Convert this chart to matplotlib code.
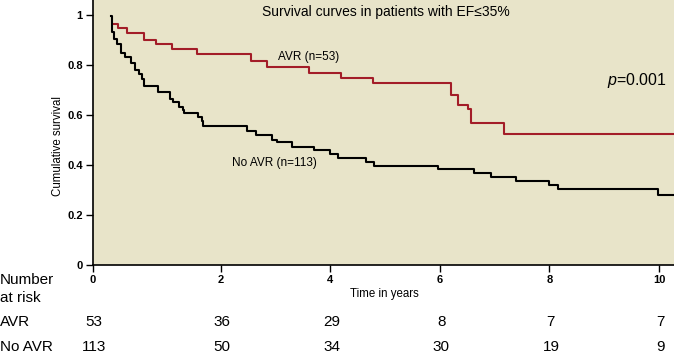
import matplotlib
matplotlib.use("Agg")
import matplotlib.pyplot as plt

# Kaplan-Meier curves (time in years, cumulative survival)
avr_time = [0.06, 0.133, 0.286, 0.608, 0.821, 1.119, 1.564, 2.549, 2.841, 3.608,
            4.197, 4.786, 6.204, 6.327, 6.520, 6.564, 7.177, 10.27]
avr_surv = [0.965, 0.947, 0.927, 0.899, 0.883, 0.863, 0.843, 0.816, 0.793, 0.768,
            0.747, 0.727, 0.680, 0.640, 0.623, 0.569, 0.523, 0.523]

noavr_time = [0.0, 0.009, 0.060, 0.115, 0.177, 0.250, 0.365, 0.438, 0.511, 0.566,
              0.602, 0.863, 1.077, 1.126, 1.241, 1.308, 1.332, 1.588, 1.661, 1.684,
              2.487, 2.641, 2.943, 3.024, 3.297, 3.704, 4.005, 4.137, 4.653, 4.805,
              5.967, 6.630, 6.943, 7.385, 7.998, 8.151, 9.976, 10.27]
noavr_surv = [0.997, 0.933, 0.903, 0.883, 0.847, 0.831, 0.807, 0.780, 0.764, 0.745,
              0.717, 0.693, 0.663, 0.651, 0.631, 0.620, 0.607, 0.591, 0.577, 0.556,
              0.536, 0.519, 0.500, 0.493, 0.473, 0.460, 0.444, 0.427, 0.414, 0.398,
              0.383, 0.367, 0.353, 0.336, 0.321, 0.303, 0.281, 0.281]

x_ticklabels = ["0", "2", "4", "6", "8", "10"]
y_ticks = [0, 0.2, 0.4, 0.6, 0.8, 1]
y_ticklabels = ["0", "0.2", "0.4", "0.6", "0.8", "1"]

risk_groups = ["AVR", "No AVR"]
risk_avr = [53, 36, 29, 8, 7, 7]
risk_noavr = [113, 50, 34, 30, 19, 9]

W, H = 674, 357
SANS = ["Liberation Sans", "DejaVu Sans"]
NARROW = ["Liberation Sans Narrow", "Liberation Sans", "DejaVu Sans"]
plt.rcParams["font.family"] = SANS
plt.rcParams["mathtext.fontset"] = "custom"
plt.rcParams["mathtext.it"] = "Liberation Sans:italic"
plt.rcParams["mathtext.rm"] = "Liberation Sans"


def px(x, y):
    return x / W, 1 - y / H


fig = plt.figure(figsize=(W / 100, H / 100), dpi=100)
ax = fig.add_axes([92.5 / W, 1 - 265 / H, 1 - 92.5 / W, 265 / H])
ax.set_facecolor("#e8e4c9")

xmin, xmax = -0.338, 10.274
ax.set_xlim(xmin, xmax)
ax.set_ylim(0, 1.06)

ax.step(avr_time, avr_surv, where="post", color="#a31d28", lw=1.5)
ax.step(noavr_time, noavr_surv, where="post", color="black", lw=1.5)

# the published plot puts its "0" tick on the left axis line
x_ticks = [xmin, 2, 4, 6, 8, 10]
ax.set_xticks(x_ticks)
ax.set_xticklabels(x_ticklabels, family=NARROW, fontsize=8, fontweight="bold")
ax.set_yticks(y_ticks)
ax.set_yticklabels(y_ticklabels, family=NARROW, fontsize=8, fontweight="bold")
ax.tick_params(axis="both", direction="out", length=5, width=1, color="black", pad=2)

for s in ["top", "right"]:
    ax.spines[s].set_visible(False)
for s in ["left", "bottom"]:
    ax.spines[s].set_linewidth(1.2)

fig.text(*px(58, 146), "Cumulative survival", rotation=90, ha="center", va="center", fontsize=8.3)
fig.text(*px(384, 294), "Time in years", ha="center", va="center", fontsize=8.3)
fig.text(*px(386, 12), "Survival curves in patients with EF\u226435%", ha="center", va="center",
         fontsize=10)
fig.text(*px(278, 57), "AVR (n=53)", ha="left", va="center", fontsize=8.5)
fig.text(*px(232, 163), "No AVR (n=113)", ha="left", va="center", fontsize=8.5)
fig.text(*px(667, 81), "$p$=0.001", ha="right", va="center", fontsize=11.5)

# number at risk table
fig.text(*px(0, 280), "Number", ha="left", va="center", fontsize=11)
fig.text(*px(0, 298), "at risk", ha="left", va="center", fontsize=11)
rows_y = [322, 347]
for name, counts, ry in zip(risk_groups, [risk_avr, risk_noavr], rows_y):
    fig.text(*px(0, ry), name, ha="left", va="center", fontsize=11)
    for xt, n in zip(x_ticks, counts):
        xd = ax.transData.transform((xt, 0))[0]
        fig.text(xd / W + 1.5 / W, 1 - ry / H, str(n), ha="center", va="center", fontsize=11)

fig.savefig("out.png", dpi=100)
